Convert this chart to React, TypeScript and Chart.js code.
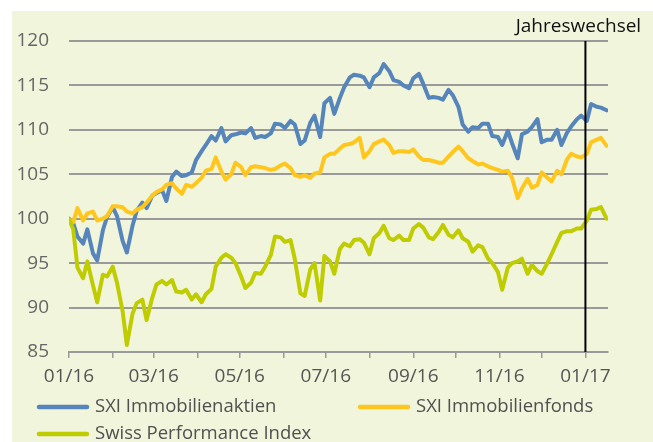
import React, { useEffect, useRef } from "react";
import { Chart, registerables } from "chart.js";

Chart.register(...registerables);

// ---- data ----
const dates = [
  "2016-01-01","2016-01-04","2016-01-07","2016-01-11","2016-01-14","2016-01-18","2016-01-21","2016-01-25","2016-01-28",
  "2016-02-01","2016-02-04","2016-02-08","2016-02-11","2016-02-15","2016-02-18","2016-02-22","2016-02-25","2016-02-29",
  "2016-03-03","2016-03-07","2016-03-10","2016-03-14","2016-03-17","2016-03-21","2016-03-24","2016-03-28","2016-03-31",
  "2016-04-04","2016-04-07","2016-04-11","2016-04-14","2016-04-18","2016-04-21","2016-04-25","2016-04-28",
  "2016-05-02","2016-05-05","2016-05-09","2016-05-12","2016-05-16","2016-05-19","2016-05-23","2016-05-26","2016-05-30",
  "2016-06-02","2016-06-06","2016-06-09","2016-06-13","2016-06-16","2016-06-20","2016-06-23","2016-06-27","2016-06-30",
  "2016-07-04","2016-07-07","2016-07-11","2016-07-14","2016-07-18","2016-07-21","2016-07-25","2016-07-28",
  "2016-08-01","2016-08-04","2016-08-08","2016-08-11","2016-08-15","2016-08-18","2016-08-22","2016-08-25","2016-08-29",
  "2016-09-01","2016-09-05","2016-09-08","2016-09-12","2016-09-15","2016-09-19","2016-09-22","2016-09-26","2016-09-29",
  "2016-10-03","2016-10-06","2016-10-10","2016-10-13","2016-10-17","2016-10-20","2016-10-24","2016-10-27","2016-10-31",
  "2016-11-03","2016-11-07","2016-11-10","2016-11-14","2016-11-17","2016-11-21","2016-11-24","2016-11-28",
  "2016-12-01","2016-12-05","2016-12-08","2016-12-12","2016-12-15","2016-12-19","2016-12-22","2016-12-26","2016-12-29",
  "2017-01-02","2017-01-05","2017-01-09","2017-01-12","2017-01-16"
];

const sxiImmobilienaktien = [
  100, 99.5, 98.0, 97.2, 98.8, 96.1, 95.3, 98.7, 100.2,
  101.3, 100.3, 97.5, 96.2, 99.2, 100.9, 101.8, 101.2, 102.6,
  102.9, 103.2, 102.0, 104.7, 105.3, 104.8, 104.9, 105.2, 106.6,
  107.6, 108.3, 109.3, 108.8, 110.2, 108.7, 109.4, 109.5,
  109.7, 109.6, 110.2, 109.1, 109.3, 109.2, 109.6, 110.7, 110.6,
  110.2, 111.0, 110.6, 108.4, 108.8, 110.8, 111.6, 109.2, 113.0,
  113.6, 111.8, 113.6, 114.8, 115.9, 116.2, 116.1, 115.9,
  114.8, 115.9, 116.4, 117.4, 116.6, 115.6, 115.4, 115.0, 114.7,
  115.8, 116.3, 115.2, 113.6, 113.7, 113.6, 113.4, 114.5, 113.9,
  112.6, 110.6, 109.8, 110.3, 110.2, 110.7, 110.7, 109.3, 109.2,
  108.3, 109.9, 108.5, 106.8, 109.5, 109.8, 110.3, 111.2,
  108.6, 108.9, 108.9, 110.0, 108.3, 109.7, 110.4, 111.2, 111.6,
  111.0, 112.9, 112.6, 112.5, 112.2
];

const sxiImmobilienfonds = [
  100, 99.6, 101.2, 99.8, 100.6, 100.8, 99.8, 100.0, 100.3,
  101.4, 101.4, 101.3, 100.8, 100.6, 101.0, 101.3, 101.8, 102.6,
  103.0, 103.3, 103.8, 104.0, 103.4, 102.8, 103.8, 103.6, 104.0,
  104.6, 105.4, 105.6, 106.9, 105.3, 104.4, 105.0, 106.3,
  105.8, 104.9, 105.8, 105.9, 105.8, 105.7, 105.5, 105.6, 106.0,
  106.2, 105.7, 104.9, 104.7, 104.9, 104.6, 105.1, 105.2, 106.9,
  107.3, 107.3, 107.9, 108.3, 108.4, 108.6, 109.1, 106.9,
  107.6, 108.4, 108.7, 108.9, 108.3, 107.4, 107.6, 107.6, 107.5,
  107.8, 107.0, 106.6, 106.6, 106.5, 106.3, 106.3, 107.0, 107.5,
  108.1, 107.6, 106.8, 106.5, 106.1, 106.2, 105.9, 105.7, 105.5,
  105.3, 105.4, 104.6, 102.3, 103.4, 104.5, 103.5, 103.8,
  105.2, 104.6, 104.2, 105.4, 105.0, 106.7, 107.3, 107.0, 106.9,
  107.3, 108.6, 108.9, 109.1, 108.2
];

const swissPerformanceIndex = [
  100, 98.8, 94.5, 93.3, 95.2, 92.5, 90.6, 93.7, 93.5,
  94.6, 92.8, 89.6, 85.8, 89.3, 90.5, 90.9, 88.6, 91.1,
  92.6, 93.0, 92.6, 93.1, 91.8, 91.7, 92.0, 90.9, 91.5,
  90.6, 91.5, 92.1, 94.6, 95.6, 96.0, 95.6, 95.0,
  93.5, 92.2, 92.8, 93.9, 93.8, 94.6, 95.9, 98.0, 97.9,
  97.4, 97.6, 95.5, 91.6, 91.3, 94.3, 95.0, 90.8, 95.8,
  95.2, 93.8, 96.6, 97.2, 96.9, 97.6, 97.7, 97.3,
  96.0, 97.8, 98.4, 99.2, 97.8, 97.6, 98.1, 97.6, 97.6,
  98.9, 99.4, 99.0, 97.9, 97.7, 98.5, 99.3, 98.2, 97.9,
  98.7, 97.8, 97.4, 96.3, 97.0, 96.8, 95.5, 95.0, 94.0,
  92.0, 94.5, 95.0, 95.2, 95.5, 93.8, 94.8, 94.1,
  93.8, 95.0, 96.0, 97.4, 98.4, 98.6, 98.6, 98.9, 98.9,
  99.8, 101.0, 101.1, 101.3, 100.0
];

const seriesLabels = ["SXI Immobilienaktien", "SXI Immobilienfonds", "Swiss Performance Index"];

const monthTicks = [
  "2016-01-01","2016-02-01","2016-03-01","2016-04-01","2016-05-01","2016-06-01","2016-07-01",
  "2016-08-01","2016-09-01","2016-10-01","2016-11-01","2016-12-01","2017-01-01"
];
const monthTickLabels = ["01/16","","03/16","","05/16","","07/16","","09/16","","11/16","","01/17"];

const yearChangeDate = "2017-01-01";
const yearChangeLabel = "Jahreswechsel";
const axisEndDate = "2017-01-17";

// ---- helpers ----
const T0 = Date.parse("2016-01-01T00:00:00Z");
const toDay = (s: string) => (Date.parse(s + "T00:00:00Z") - T0) / 86400000;

const COLORS = ["#5585BA", "#FFC71E", "#BECC00"];
const FONT = "'Open Sans', 'Noto Sans', sans-serif";

const overlayPlugin = {
  id: "overlay",
  afterDatasetsDraw(chart: any) {
    const { ctx, chartArea, scales } = chart;
    const x = scales.x.getPixelForValue(toDay(yearChangeDate));
    ctx.save();
    ctx.strokeStyle = "#000";
    ctx.lineWidth = 2;
    ctx.beginPath();
    ctx.moveTo(x, chartArea.top);
    ctx.lineTo(x, chartArea.bottom);
    ctx.stroke();
    ctx.fillStyle = "#111";
    ctx.font = `19px ${FONT}`;
    ctx.textAlign = "center";
    ctx.textBaseline = "middle";
    ctx.fillText(yearChangeLabel, x - 7, 27);
    ctx.restore();
  },
  afterDraw(chart: any) {
    const { ctx } = chart;
    const pos = [
      { x: 37, y: 407 },
      { x: 358, y: 407 },
      { x: 37, y: 434 },
    ];
    ctx.save();
    chart.data.datasets.forEach((ds: any, i: number) => {
      const idx = seriesLabels.indexOf(ds.label);
      const p = pos[idx];
      ctx.strokeStyle = ds.borderColor;
      ctx.lineWidth = 4.5;
      ctx.lineCap = "round";
      ctx.beginPath();
      ctx.moveTo(p.x + 2, p.y);
      ctx.lineTo(p.x + 50, p.y);
      ctx.stroke();
      ctx.fillStyle = "#505050";
      ctx.font = `18.5px ${FONT}`;
      ctx.textAlign = "left";
      ctx.textBaseline = "middle";
      ctx.fillText(ds.label, p.x + 58, p.y);
    });
    ctx.restore();
  },
};

export default function App() {
  const canvasRef = useRef<HTMLCanvasElement | null>(null);

  useEffect(() => {
    if (!canvasRef.current) return;
    const xs = dates.map(toDay);
    const mk = (vals: number[]) => vals.map((v, i) => ({ x: xs[i], y: v }));
    const chart = new Chart(canvasRef.current, {
      type: "line",
      data: {
        datasets: [
          { label: seriesLabels[0], data: mk(sxiImmobilienaktien), borderColor: COLORS[0], order: 3 },
          { label: seriesLabels[1], data: mk(sxiImmobilienfonds), borderColor: COLORS[1], order: 2 },
          { label: seriesLabels[2], data: mk(swissPerformanceIndex), borderColor: COLORS[2], order: 1 },
        ],
      },
      options: {
        animation: false,
        responsive: false,
        maintainAspectRatio: false,
        layout: { padding: { left: 0, right: 45, top: 41, bottom: 45 } },
        plugins: { legend: { display: false }, tooltip: { enabled: false } },
        elements: {
          point: { radius: 0 },
          line: { tension: 0, borderWidth: 4, borderJoinStyle: "round", borderCapStyle: "round", fill: false },
        },
        scales: {
          x: {
            type: "linear",
            min: 0,
            max: toDay(axisEndDate),
            afterBuildTicks: (s: any) => {
              s.ticks = monthTicks.map((d) => ({ value: toDay(d) }));
            },
            afterFit: (s: any) => {
              s.height = 45;
            },
            ticks: {
              autoSkip: false,
              maxRotation: 0,
              padding: 7,
              color: "#555",
              font: { family: FONT, size: 19 },
              callback: (_v: any, i: number) => monthTickLabels[i],
            },
            grid: { drawOnChartArea: false, drawTicks: true, tickLength: 6, color: "#9a9a9a", lineWidth: 1.5 },
            border: { display: true, color: "#9a9a9a", width: 2 },
          },
          y: {
            min: 85,
            max: 120,
            afterFit: (s: any) => {
              s.width = 69;
            },
            ticks: { stepSize: 5, padding: 20, color: "#666", font: { family: FONT, size: 19 } },
            grid: { color: "#9a9a9a", lineWidth: 2, drawTicks: false },
            border: { display: false },
          },
        },
      },
      plugins: [overlayPlugin],
    } as any);
    return () => chart.destroy();
  }, []);

  return (
    <div style={{ position: "fixed", left: 0, top: 0, width: 653, height: 442, background: "#fff", overflow: "hidden" }}>
      <div style={{ position: "absolute", left: 12, top: 11, right: 0, bottom: 0, background: "#F1F5DC" }} />
      <canvas ref={canvasRef} width={653} height={442} style={{ position: "absolute", left: 0, top: 0, width: 653, height: 442 }} />
    </div>
  );
}
